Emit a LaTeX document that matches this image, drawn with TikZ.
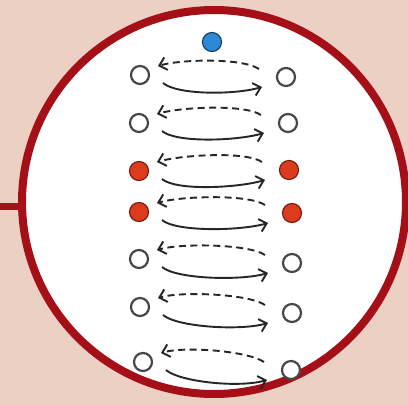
\documentclass[tikz,border=0pt]{standalone}
\usetikzlibrary{arrows.meta,calc}
\definecolor{bg}{HTML}{EDD0C4}
\definecolor{ringred}{HTML}{A50F18}
\definecolor{dotred}{HTML}{DD3B1E}
\definecolor{dotblue}{HTML}{2F88D6}
\definecolor{ink}{HTML}{262626}
\tikzset{
  dot/.style={circle, draw=ink!85, line width=2.2pt, minimum size=18pt, inner sep=0pt, fill=white},
  reddot/.style={dot, fill=dotred, draw=dotred!55!black, line width=1.2pt, minimum size=19pt},
  bluedot/.style={dot, fill=dotblue, draw=dotblue!50!black, line width=1.2pt, minimum size=19pt},
  tiphead/.style={-{Straight Barb[length=7pt,width=13pt,line width=1.9pt]}},
  backarrow/.style={ink, line width=1.9pt, dash pattern=on 7pt off 4.5pt, tiphead},
  fwdarrow/.style={ink, line width=1.9pt, tiphead},
  ringstyle/.style={circle, draw=ringred, line width=8pt, fill=white, minimum size=384pt, inner sep=0pt}
}
\begin{document}
\begin{tikzpicture}[x=1pt,y=-1pt]
\useasboundingbox (0,0) rectangle (408,405);
\fill[bg] (0,0) rectangle (408,405);
\node[ringstyle] (ring) at (214,202) {};
\coordinate (lstart) at (0,206.5);
\draw[ringred, line width=7pt] (lstart) -- (ring.west |- lstart);
\node[bluedot] (B) at (212,42) {};
\foreach \i/\xl/\yl/\xr/\yr/\st in {1/140/75/286/77/dot, 2/139/123/288/123/dot, 3/139/171/289/170/reddot, 4/139/212/292/213/reddot, 5/139/259/292/263/dot, 6/140/307/292/313/dot, 7/143/362/291/370/dot}{
  \node[\st] (L\i) at (\xl,\yl) {};
  \node[\st] (R\i) at (\xr,\yr) {};
  \draw[backarrow] ($(R\i)+(-27,-8)$) .. controls +(-16,-11) and +(24,-7) .. ($(L\i)+(18,-9)$);
  \draw[fwdarrow] ($(L\i)+(23,8)$) .. controls +(14,12) and +(-28,8) .. ($(R\i)+(-24,10)$);
}
\end{tikzpicture}
\end{document}
